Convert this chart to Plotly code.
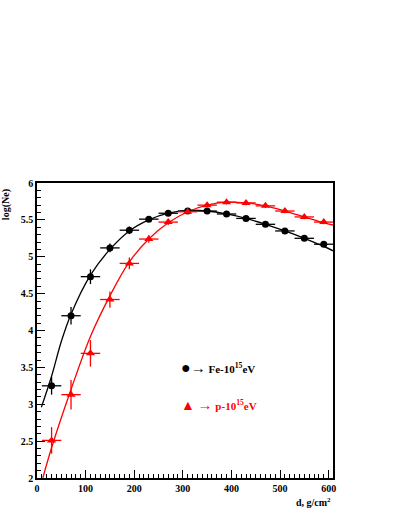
import plotly.graph_objects as go

# measured depths (g/cm^2)
depth = [30, 70, 110, 150, 190, 230, 270, 310, 350, 390, 430, 470, 510, 550, 590]
depth_err = [20] * 15

# Fe-10^15 eV
fe_logne = [3.25, 4.20, 4.73, 5.12, 5.36, 5.51, 5.59, 5.62, 5.62, 5.58, 5.52, 5.44, 5.35, 5.25, 5.17]
fe_err = [0.12, 0.12, 0.10, 0.06, 0.05, 0.04, 0.03, 0.03, 0.03, 0.03, 0.03, 0.03, 0.03, 0.03, 0.03]

# p-10^15 eV
p_logne = [2.51, 3.13, 3.69, 4.42, 4.91, 5.24, 5.47, 5.61, 5.70, 5.74, 5.73, 5.69, 5.62, 5.54, 5.47]
p_err = [0.18, 0.20, 0.18, 0.11, 0.08, 0.05, 0.04, 0.03, 0.03, 0.03, 0.03, 0.03, 0.03, 0.03, 0.03]

# fitted curves
fe_fit_x = [9, 30, 50, 70, 110, 150, 190, 230, 270, 310, 350, 390, 430, 470, 510, 550, 590, 609]
fe_fit_y = [2.96, 3.38, 3.85, 4.22, 4.75, 5.10, 5.35, 5.50, 5.59, 5.63, 5.62, 5.58, 5.52, 5.44, 5.35, 5.25, 5.14, 5.08]
p_fit_x = [12, 30, 70, 110, 150, 190, 230, 270, 310, 350, 390, 430, 470, 510, 550, 590, 609]
p_fit_y = [2.00, 2.41, 3.20, 3.92, 4.47, 4.93, 5.24, 5.46, 5.61, 5.70, 5.74, 5.73, 5.69, 5.62, 5.54, 5.46, 5.43]

font = "Liberation Serif"

fig = go.Figure()

fig.add_trace(go.Scatter(x=fe_fit_x, y=fe_fit_y, mode="lines",
                         line=dict(color="black", width=1.3, shape="spline")))
fig.add_trace(go.Scatter(x=p_fit_x, y=p_fit_y, mode="lines",
                         line=dict(color="red", width=1.3, shape="spline")))

fig.add_trace(go.Scatter(
    x=depth, y=fe_logne, mode="markers",
    marker=dict(symbol="circle", size=7, color="black"),
    error_x=dict(type="data", array=depth_err, width=0, thickness=1.3, color="black"),
    error_y=dict(type="data", array=fe_err, width=0, thickness=1.3, color="black"),
))
fig.add_trace(go.Scatter(
    x=depth, y=p_logne, mode="markers",
    marker=dict(symbol="triangle-up", size=8, color="red"),
    error_x=dict(type="data", array=depth_err, width=0, thickness=1.3, color="red"),
    error_y=dict(type="data", array=p_err, width=0, thickness=1.3, color="red"),
))

# legend drawn as text in the plot
fig.add_annotation(x=293, y=3.5, xref="x", yref="y", xanchor="left", yanchor="middle",
                   showarrow=False,
                   text="<span style='font-size:16px'>●</span><span style='font-size:15px'>→</span> <b>Fe-10<sup>15</sup>eV</b>",
                   font=dict(family=font, size=11, color="black"))
fig.add_annotation(x=293, y=2.99, xref="x", yref="y", xanchor="left", yanchor="middle",
                   showarrow=False,
                   text="<span style='font-size:14px'>▲</span> <span style='font-size:15px'>→</span> <b>p-10<sup>15</sup>eV</b>",
                   font=dict(family=font, size=11, color="red"))

# axis titles
fig.add_annotation(x=-0.104, y=0.985, xref="paper", yref="paper", xanchor="center", yanchor="top",
                   showarrow=False, text="<b>log(Ne)</b>", textangle=-90,
                   font=dict(family=font, size=10, color="black"))
fig.add_annotation(x=1.0, y=-0.055, xref="paper", yref="paper", xanchor="right", yanchor="top",
                   showarrow=False, text="<b>d, g/cm<sup>2</sup></b>",
                   font=dict(family=font, size=10, color="black"))

fig.update_xaxes(range=[0, 609], tickvals=[0, 100, 200, 300, 400, 500, 600],
                 ticks="inside", ticklen=8, tickwidth=1, tickcolor="black",
                 minor=dict(dtick=10, ticks="inside", ticklen=4, tickcolor="black"),
                 showline=True, linecolor="black", linewidth=1.5, mirror=True,
                 showgrid=False, zeroline=False, automargin=False,
                 tickfont=dict(family=font, size=10, color="black", weight="bold"))
fig.update_yaxes(range=[2, 6], dtick=0.5,
                 ticks="inside", ticklen=8, tickwidth=1, tickcolor="black",
                 minor=dict(dtick=0.1, ticks="inside", ticklen=4, tickcolor="black"),
                 showline=True, linecolor="black", linewidth=1.5, mirror=True,
                 showgrid=False, zeroline=False, automargin=False,
                 tickfont=dict(family=font, size=10, color="black", weight="bold"))

fig.update_layout(width=399, height=516, showlegend=False,
                  margin=dict(l=37, r=66, t=183, b=38),
                  plot_bgcolor="white", paper_bgcolor="white",
                  font=dict(family=font, color="black"))

# drop the page's default body margin so the figure sits at the window corner
fig.write_html("out.html", config={"displayModeBar": False},
               post_script="document.body.style.margin='0px';")
